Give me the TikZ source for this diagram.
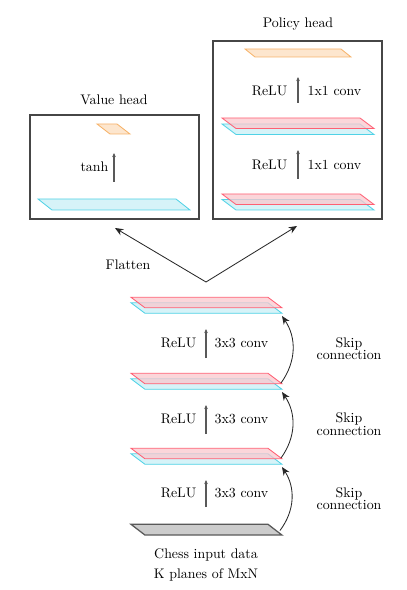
\documentclass[tikz,border=0pt]{standalone}
\usetikzlibrary{arrows.meta}
\definecolor{pred}{RGB}{255,95,115}
\definecolor{predfill}{RGB}{250,200,206}
\definecolor{pcyan}{RGB}{80,210,230}
\definecolor{pcyanfill}{RGB}{214,243,248}
\definecolor{porange}{RGB}{246,178,104}
\definecolor{porangefill}{RGB}{253,230,206}
\definecolor{boxgray}{RGB}{70,70,70}
\newcommand{\planeshape}[6]{\draw[#1] (#2,#3) -- ++(#4,0) -- ++(#5,#6) -- ++(-#4,0) -- cycle;}
\begin{document}
\begin{tikzpicture}[x=0.72pt,y=-0.72pt,
  redplane/.style={draw=pred,line width=0.6pt,fill=predfill,fill opacity=0.75},
  cyanplane/.style={draw=pcyan,line width=0.6pt,fill=pcyanfill},
  orangeplane/.style={draw=porange,line width=0.6pt,fill=porangefill},
  inputplane/.style={draw=black!65,line width=0.9pt,fill=black!20},
  headbox/.style={draw=boxgray,line width=0.8pt},
  uparrow/.style={draw=black!65,line width=0.8pt,-{Stealth[length=3pt,width=2.6pt]}},
  skiparrow/.style={draw=black!85,line width=0.6pt,-{Stealth[length=6pt,width=5pt]}},
  flatarrow/.style={draw=black!85,line width=0.6pt,-{Stealth[length=6pt,width=5pt]}},
  lbl/.style={inner sep=1pt},
  lblL/.style={inner sep=1pt,anchor=east},
  lblR/.style={inner sep=1pt,anchor=west}]
\useasboundingbox (0,0) rectangle (406,590);

% ---------- Value head ----------
\node[lbl] (vtitle) at (114,100) {Value head};
\draw[headbox] (30,115) rectangle (199,219);
\planeshape{orangeplane}{97}{124}{20}{13}{10}
\planeshape{cyanplane}{38}{199}{138}{14}{11}
\coordinate (vS) at (114,182);
\coordinate (vE) at (114,153);
\draw[uparrow] (vS) -- (vE);
\node[lblL] (vtanh) at (110,167) {tanh};
\coordinate (vbox) at (115,228);

% ---------- Policy head ----------
\node[lbl] (ptitle) at (298,24) {Policy head};
\draw[headbox] (213,41) rectangle (382,219);
\planeshape{orangeplane}{245}{49}{96}{10}{8}
\planeshape{cyanplane}{222}{124}{138}{14}{10.5}
\planeshape{redplane}{222}{118}{138}{14}{10.5}
\planeshape{cyanplane}{222}{199.5}{138}{14}{10.5}
\planeshape{redplane}{222}{194}{138}{14}{10.5}
\coordinate (p1S) at (298,103);
\coordinate (p1E) at (298,77);
\draw[uparrow] (p1S) -- (p1E);
\node[lblL] (p1relu) at (289,91) {ReLU};
\node[lblR] (p1conv) at (306,91) {1x1 conv};
\coordinate (p2S) at (298,179);
\coordinate (p2E) at (298,150);
\draw[uparrow] (p2S) -- (p2E);
\node[lblL] (p2relu) at (289,165) {ReLU};
\node[lblR] (p2conv) at (306,165) {1x1 conv};
\coordinate (pbox) at (297,226);

% ---------- Flatten ----------
\coordinate (fS) at (206,282);
\draw[flatarrow] (fS) -- (vbox);
\draw[flatarrow] (fS) -- (pbox);
\node[lbl] (flatten) at (128,265) {Flatten};

% ---------- Residual tower ----------
\planeshape{cyanplane}{131}{302.8}{137}{14}{10.5}
\planeshape{redplane}{131}{297.3}{137}{14}{10.5}
\planeshape{cyanplane}{131}{378.8}{137}{14}{10.5}
\planeshape{redplane}{131}{373.3}{137}{14}{10.5}
\planeshape{cyanplane}{131}{453.8}{137}{14}{10.5}
\planeshape{redplane}{131}{448.3}{137}{14}{10.5}
\planeshape{inputplane}{131}{524.3}{137}{14}{10.8}

\coordinate (aS) at (206,358);
\coordinate (aE) at (206,329);
\draw[uparrow] (aS) -- (aE);
\node[lblL] (arelu) at (198,343) {ReLU};
\node[lblR] (aconv) at (213,343) {3x3 conv};

\coordinate (bS) at (206,434);
\coordinate (bE) at (206,405);
\draw[uparrow] (bS) -- (bE);
\node[lblL] (brelu) at (198,419) {ReLU};
\node[lblR] (bconv) at (213,419) {3x3 conv};

\coordinate (cS) at (206,507);
\coordinate (cE) at (206,480);
\draw[uparrow] (cS) -- (cE);
\node[lblL] (crelu) at (198,493) {ReLU};
\node[lblR] (cconv) at (213,493) {3x3 conv};

% skip connections
\coordinate (s1S) at (280,530.5);
\coordinate (s1E) at (282,467);
\coordinate (s2S) at (281,458);
\coordinate (s2E) at (282,392);
\coordinate (s3S) at (281,383);
\coordinate (s3E) at (282,316);
\draw[skiparrow] (s1S) to[bend right=35] (s1E);
\draw[skiparrow] (s2S) to[bend right=35] (s2E);
\draw[skiparrow] (s3S) to[bend right=35] (s3E);
\node[lbl,align=center] (k3) at (349,348.5) {Skip\\[-3pt]connection};
\node[lbl,align=center] (k2) at (349,424) {Skip\\[-3pt]connection};
\node[lbl,align=center] (k1) at (349,498.5) {Skip\\[-3pt]connection};

\node[lbl] (in1) at (206,555) {Chess input data};
\node[lbl] (in2) at (206,575) {K planes of MxN};
\end{tikzpicture}
\end{document}
